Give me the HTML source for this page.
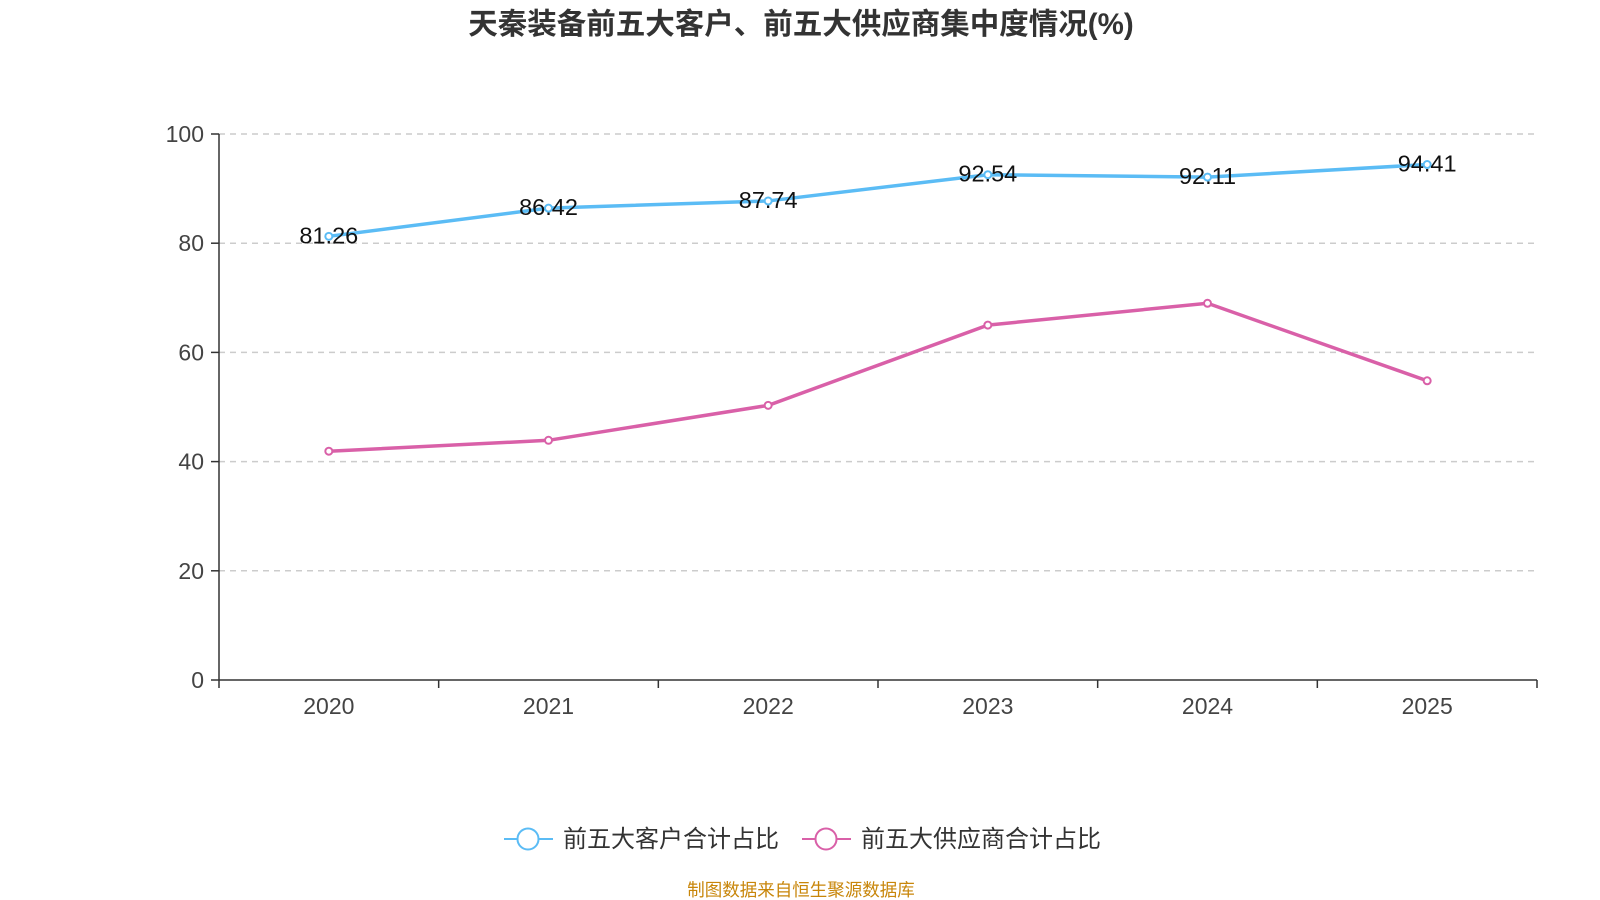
<!DOCTYPE html>
<html><head><meta charset="utf-8">
<style>
html,body{margin:0;padding:0;background:#fff;width:1600px;height:900px;overflow:hidden}
svg{display:block;font-family:"Liberation Sans","Noto Sans CJK SC",sans-serif}
</style></head><body>
<svg id="chart" width="1600" height="900">
<text x="801" y="34" text-anchor="middle" font-size="29.5" font-weight="bold" fill="#333">天秦装备前五大客户、前五大供应商集中度情况(%)</text>
<g id="grid"></g><g id="axes"></g><g id="series"></g>
<g>
<g>
<line x1="504" y1="839" x2="553" y2="839" stroke="#5bbcf5" stroke-width="2"/>
<circle cx="528" cy="839" r="10.5" fill="#fff" stroke="#5bbcf5" stroke-width="2"/>
<text x="563" y="847" font-size="24" fill="#333">前五大客户合计占比</text></g>
<g>
<line x1="802" y1="839" x2="851" y2="839" stroke="#d960a8" stroke-width="2"/>
<circle cx="826" cy="839" r="10.5" fill="#fff" stroke="#d960a8" stroke-width="2"/>
<text x="861" y="847" font-size="24" fill="#333">前五大供应商合计占比</text></g>
</g>
<text x="801" y="896" text-anchor="middle" font-size="17.5" fill="#c8860a">制图数据来自恒生聚源数据库</text>
</svg>
<script>
const categories=["2020","2021","2022","2023","2024","2025"];
const customers=[81.26,86.42,87.74,92.54,92.11,94.41];
const suppliers=[41.9,43.9,50.3,65.0,69.0,54.8];
const yTicks=[0,20,40,60,80,100];
const NS="http://www.w3.org/2000/svg";
const L=219,R=1537,T=134,B=680;
const band=(R-L)/categories.length;
const x=i=>L+band*(i+0.5);
const y=v=>B-(v/100)*(B-T);
function mk(tag,attrs,parent){const e=document.createElementNS(NS,tag);for(const k in attrs)e.setAttribute(k,attrs[k]);document.getElementById(parent).appendChild(e);return e;}
yTicks.forEach(t=>{
 if(t>0){const g=mk('line',{x1:L,x2:R,y1:y(t),y2:y(t),stroke:'#ccc','stroke-dasharray':'6,5','stroke-width':1.5},'grid');
 
 }
 const tk=mk('line',{x1:L-8,x2:L,y1:y(t),y2:y(t),stroke:'#333','stroke-width':1.5},'axes');
 
 
 const tx=mk('text',{x:L-15,y:y(t)+8,'text-anchor':'end','font-size':23,fill:'#444'},'axes');tx.textContent=t;
 
 
});
const ya=mk('line',{x1:L,x2:L,y1:T,y2:B,stroke:'#333','stroke-width':1.5},'axes');


const xa=mk('line',{x1:L,x2:R,y1:B,y2:B,stroke:'#333','stroke-width':1.5},'axes');


for(let i=0;i<=categories.length;i++){const t=mk('line',{x1:L+band*i,x2:L+band*i,y1:B,y2:B+8,stroke:'#333','stroke-width':1.5},'axes');
 
 }
categories.forEach((c,i)=>{const t=mk('text',{x:x(i),y:B+34,'text-anchor':'middle','font-size':23,fill:'#444'},'axes');t.textContent=c;
 
 });
function series(vals,color,name,labels){
 const p=mk('polyline',{points:vals.map((v,i)=>x(i)+','+y(v)).join(' '),fill:'none',stroke:color,'stroke-width':3.5},'series');
 
 
 vals.forEach((v,i)=>{const c=mk('circle',{cx:x(i),cy:y(v),r:3.5,fill:'#fff',stroke:color,'stroke-width':2},'series');
  
  
  if(labels){const t=mk('text',{x:x(i),y:y(v)+7,'text-anchor':'middle','font-size':23.5,fill:'#111'},'series');t.textContent=v.toFixed(2);
   
   }
 });
}
series(customers,'#5bbcf5','customers',true);
series(suppliers,'#d960a8','suppliers',false);
</script>
</body></html>
